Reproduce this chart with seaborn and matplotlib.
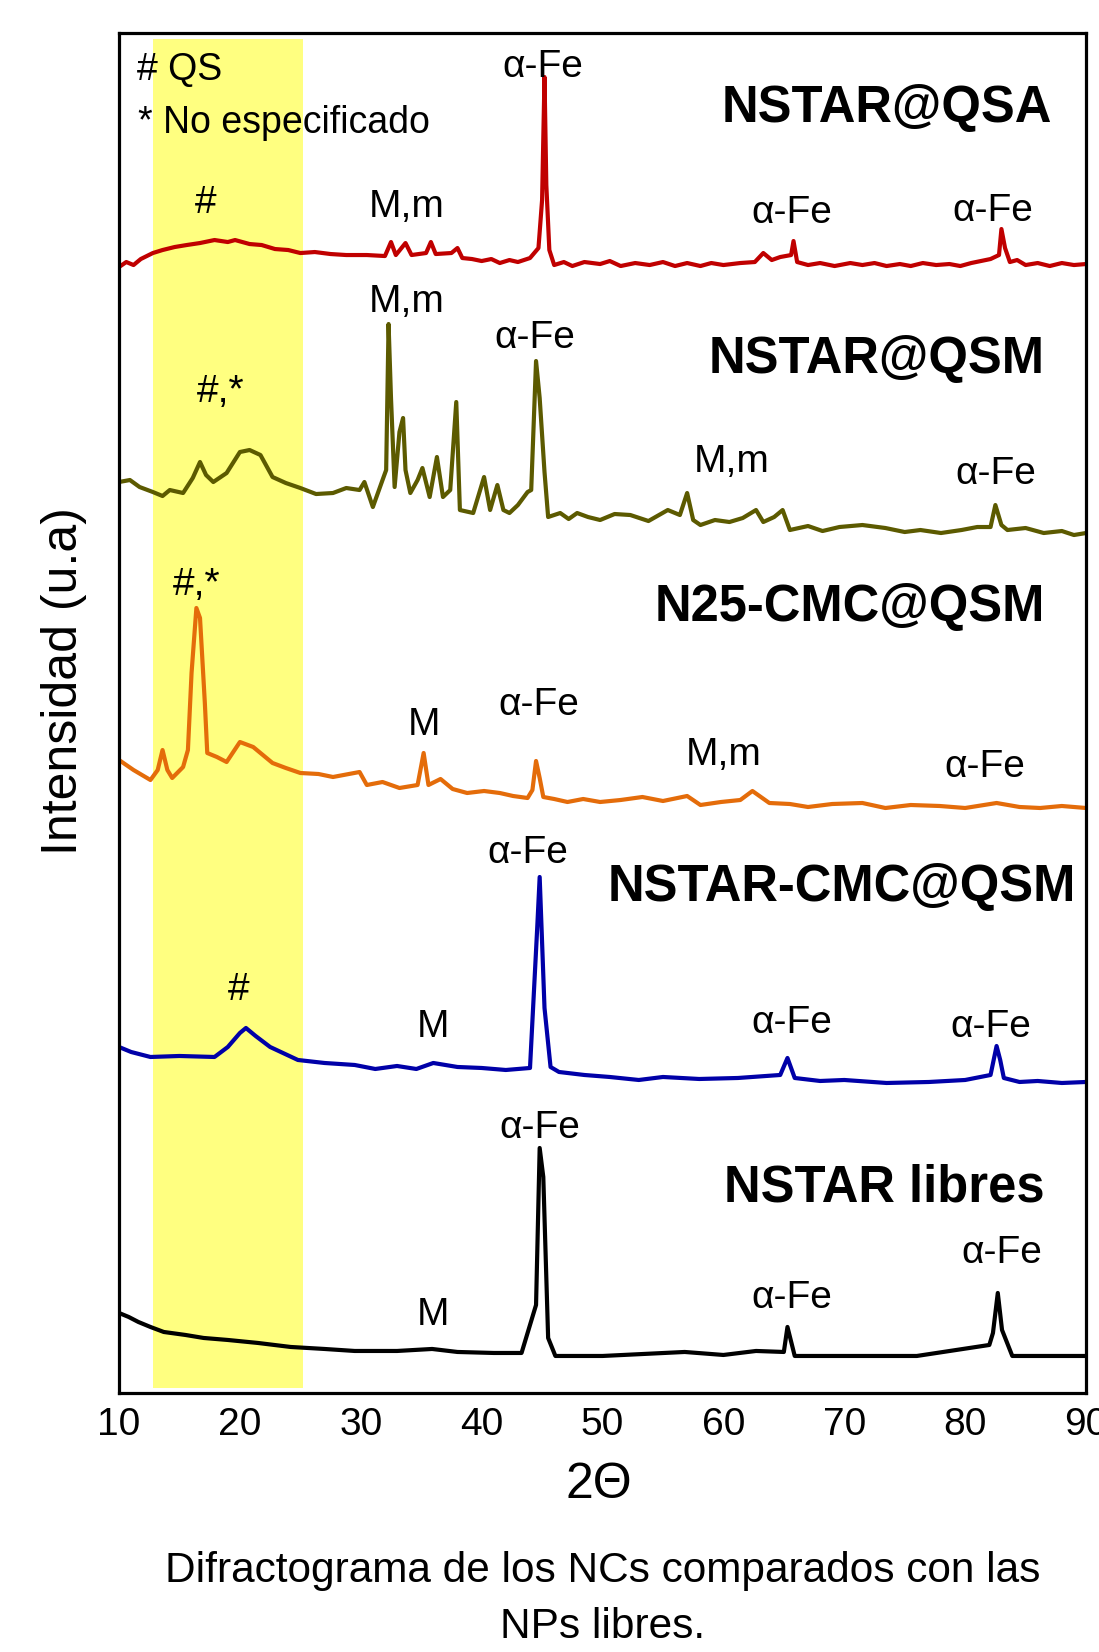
import matplotlib
matplotlib.use("Agg")
import matplotlib.pyplot as plt
import seaborn as sns

# XRD patterns (2-theta, stacked intensity in a.u.)
qsa_2t = [10.0, 10.6, 11.2, 11.8, 12.8, 13.6, 14.6, 15.6, 16.7, 17.9, 19.0, 19.6, 20.8, 21.8,
          22.9, 24.0, 25.0, 26.2, 27.5, 28.8, 30.5, 32.0, 32.5, 32.9, 33.7, 34.2, 35.4, 35.8,
          36.2, 37.5, 38.0, 38.4, 39.2, 40.0, 40.8, 41.5, 42.3, 43.0, 44.0, 44.7, 45.0, 45.2,
          45.35, 45.6, 46.0, 46.8, 47.5, 48.5, 49.8, 50.6, 51.5, 52.7, 53.9, 55.0, 56.0, 57.0,
          58.1, 59.0, 60.0, 61.4, 62.6, 63.3, 64.0, 64.7, 65.6, 65.8, 66.1, 67.0, 68.0, 69.2,
          70.5, 71.5, 72.5, 73.5, 74.6, 75.5, 76.5, 77.6, 78.7, 79.6, 80.5, 81.3, 82.1, 82.8,
          83.0, 83.3, 83.7, 84.3, 85.0, 86.0, 87.0, 88.0, 89.0, 90.0]
qsa_i = [1126, 1131, 1128, 1134, 1140, 1143, 1146, 1148, 1150, 1153, 1151, 1153, 1149, 1148,
         1144, 1143, 1140, 1141, 1139, 1138, 1138, 1137, 1151, 1138, 1150, 1138, 1140, 1151,
         1139, 1140, 1145, 1135, 1134, 1132, 1134, 1130, 1133, 1131, 1135, 1145, 1193, 1316,
         1208, 1143, 1128, 1131, 1127, 1131, 1129, 1132, 1127, 1130, 1128, 1131, 1127, 1130,
         1127, 1130, 1128, 1130, 1131, 1140, 1133, 1136, 1138, 1152, 1131, 1128, 1130, 1127,
         1130, 1128, 1130, 1127, 1129, 1127, 1130, 1128, 1129, 1127, 1130, 1132, 1134, 1138,
         1164, 1145, 1131, 1133, 1128, 1130, 1127, 1130, 1128, 1129]

qsm_2t = [10.0, 10.9, 11.7, 12.8, 13.6, 14.2, 15.3, 16.1, 16.7, 17.2, 17.8, 18.9, 20.0, 20.8,
          21.7, 22.7, 23.8, 25.0, 26.3, 27.7, 28.8, 29.9, 30.3, 31.0, 31.8, 32.1, 32.3, 32.5,
          32.8, 33.2, 33.5, 33.7, 34.1, 34.7, 35.1, 35.7, 36.3, 36.8, 37.4, 37.9, 38.2, 39.3,
          40.2, 40.7, 41.3, 41.8, 42.3, 43.0, 43.8, 44.1, 44.5, 44.8, 45.2, 45.5, 46.5, 47.2,
          47.9, 48.8, 49.8, 51.0, 52.3, 53.8, 55.4, 56.4, 57.0, 57.5, 58.1, 59.3, 60.5, 61.6,
          62.7, 63.3, 64.2, 64.9, 65.5, 67.0, 68.2, 69.6, 71.5, 73.4, 75.0, 76.3, 78.0, 79.7,
          81.0, 82.1, 82.5, 83.0, 83.5, 85.0, 86.5, 88.0, 89.0, 90.0]
qsm_i = [911, 913, 906, 901, 897, 903, 900, 915, 931, 918, 911, 920, 941, 943,
         938, 916, 910, 905, 899, 900, 905, 903, 911, 886, 913, 923, 1069, 995,
         906, 961, 975, 923, 900, 913, 925, 896, 936, 896, 903, 991, 883, 880,
         916, 883, 908, 883, 880, 888, 901, 903, 1032, 995, 921, 876, 880, 874,
         880, 876, 873, 879, 878, 872, 883, 878, 900, 873, 868, 873, 871, 875,
         883, 871, 876, 883, 863, 867, 862, 866, 868, 865, 861, 863, 860, 863,
         866, 866, 888, 868, 863, 865, 860, 862, 858, 860]

n25_2t = [10.0, 11.2, 12.6, 13.2, 13.6, 14.0, 14.4, 15.3, 15.7, 16.0, 16.4, 16.7, 17.1, 17.3,
          18.1, 18.9, 20.0, 21.1, 22.7, 23.8, 25.0, 26.5, 27.7, 29.9, 30.5, 31.8, 33.2, 34.7,
          35.2, 35.6, 36.6, 37.6, 38.8, 40.2, 41.5, 42.6, 43.8, 44.2, 44.5, 44.8, 45.1, 46.0,
          47.1, 48.4, 49.8, 51.5, 53.3, 55.0, 57.0, 58.1, 59.8, 61.4, 62.4, 63.8, 65.5, 67.0,
          69.0, 71.5, 73.4, 75.5, 77.9, 80.0, 82.6, 84.5, 86.2, 88.0, 90.0]
n25_i = [633, 623, 613, 623, 643, 623, 615, 626, 643, 720, 785, 775, 690, 640,
         636, 631, 651, 646, 630, 625, 620, 619, 616, 621, 608, 611, 605, 608,
         640, 608, 614, 604, 600, 602, 600, 597, 595, 603, 632, 615, 596, 594,
         591, 594, 591, 593, 596, 592, 597, 588, 591, 593, 602, 590, 589, 586,
         589, 590, 585, 588, 587, 585, 590, 586, 585, 587, 585]

cmc_2t = [10.0, 11.0, 12.6, 15.0, 17.9, 19.0, 20.0, 20.5, 21.3, 22.5, 24.8, 27.0, 29.5, 31.2,
          33.0, 34.6, 36.0, 38.0, 40.0, 42.0, 44.0, 44.6, 44.8, 45.2, 45.7, 46.4, 48.5, 50.6,
          53.0, 55.0, 58.0, 61.2, 64.7, 65.3, 65.9, 68.0, 70.0, 73.5, 77.0, 80.0, 82.1, 82.6,
          82.9, 83.2, 84.5, 86.0, 88.0, 90.0]
cmc_i = [346, 341, 336, 337, 336, 346, 360, 365, 357, 346, 333, 330, 328, 324,
         327, 324, 330, 326, 325, 323, 325, 466, 516, 385, 326, 321, 318, 316,
         313, 316, 314, 315, 318, 335, 315, 312, 313, 310, 311, 313, 318, 347,
         333, 315, 311, 312, 310, 311]

free_2t = [10.0, 10.8, 11.6, 12.6, 13.7, 15.5, 17.0, 19.0, 21.5, 24.2, 27.0, 29.5, 33.0, 35.9,
           38.0, 41.0, 43.3, 44.5, 44.8, 45.1, 45.5, 46.1, 50.0, 56.8, 60.0, 62.7, 65.0, 65.3,
           65.9, 70.0, 76.0, 82.0, 82.3, 82.7, 83.05, 83.9, 87.0, 90.0]
free_i = [80, 76, 71, 66, 61, 58, 55, 53, 50, 46, 44, 42, 42, 44,
          41, 40, 40, 88, 245, 216, 55, 37, 37, 41, 38, 42, 41, 66,
          37, 37, 37, 48, 60, 100, 63, 37, 37, 37]

series = [
    (qsa_2t, qsa_i, "#c00000"),
    (qsm_2t, qsm_i, "#5c5a00"),
    (n25_2t, n25_i, "#e46c0a"),
    (cmc_2t, cmc_i, "#0000a8"),
    (free_2t, free_i, "#000000"),
]

# sample names (right aligned) and peak labels
names = ["NSTAR@QSA", "NSTAR@QSM", "N25-CMC@QSM", "NSTAR-CMC@QSM", "NSTAR libres"]
name_x = [87.2, 86.6, 86.6, 89.2, 86.6]
name_y = [1271, 1020, 772, 492, 191]

peak_txt = ["α-Fe", "#", "M,m", "α-Fe", "α-Fe",
            "M,m", "α-Fe", "#,*", "M,m", "α-Fe",
            "#,*", "M", "α-Fe", "M,m", "α-Fe",
            "α-Fe", "#", "M", "α-Fe", "α-Fe",
            "α-Fe", "α-Fe", "α-Fe", "M"]
peak_x = [45.1, 17.2, 33.8, 65.7, 82.3,
          33.8, 44.4, 18.4, 60.7, 82.5,
          16.4, 35.2, 44.7, 60.0, 81.6,
          43.8, 19.9, 36.0, 65.7, 82.1,
          44.8, 83.0, 65.7, 36.0]
peak_y = [1316, 1180, 1176, 1170, 1172,
          1081, 1045, 991, 921, 909,
          798, 658, 678, 628, 616,
          530, 393, 356, 360, 356,
          255, 130, 85, 68]

for xs, ys, _ in series:
    assert len(xs) == len(ys)

sns.set_theme(style="white")
plt.rcParams["font.family"] = ["Liberation Sans", "DejaVu Sans"]
plt.rcParams["text.color"] = "black"
plt.rcParams["axes.labelcolor"] = "black"

fig = plt.figure(figsize=(10.99, 16.52), dpi=100)
ax = fig.add_axes([0.1083, 0.1568, 0.8799, 0.8232])

# shaded 2-theta window for QS
ax.axvspan(12.85, 25.2, ymin=0.004, ymax=0.9956, color="#ffff80", lw=0, zorder=0)

for xs, ys, col in series:
    sns.lineplot(x=xs, y=ys, color=col, linewidth=3.0, sort=False, estimator=None, ax=ax)

for name, x, y in zip(names, name_x, name_y):
    ax.text(x, y, name, ha="right", va="baseline", fontsize=36.5, fontweight="bold")

for t, x, y in zip(peak_txt, peak_x, peak_y):
    ax.text(x, y, t, ha="center", va="baseline", fontsize=28)

ax.text(11.5, 1313, "# QS", ha="left", va="baseline", fontsize=27)
ax.text(11.6, 1260, "* No especificado", ha="left", va="baseline", fontsize=27)

ax.set_xlim(10, 90)
ax.set_ylim(0, 1360)
ax.set_xticks(range(10, 91, 10))
ax.set_yticks([])
ax.tick_params(axis="x", length=0, pad=10, labelsize=28, colors="black")
for sp in ax.spines.values():
    sp.set_color("black")
    sp.set_linewidth(2.3)

ax.set_xlabel("2Θ", fontsize=36, va="baseline")
ax.xaxis.set_label_coords(0.4964, -0.0772)
ax.set_ylabel("Intensidad (u.a)", fontsize=36)
ax.yaxis.set_label_coords(-0.0331, 0.5232)

fig.text(0.5487, 0.0424, "Difractograma de los NCs comparados con las",
         ha="center", va="baseline", fontsize=30.5)
fig.text(0.5487, 0.0085, "NPs libres.", ha="center", va="baseline", fontsize=30.5)

fig.savefig("out.png", dpi=100)
